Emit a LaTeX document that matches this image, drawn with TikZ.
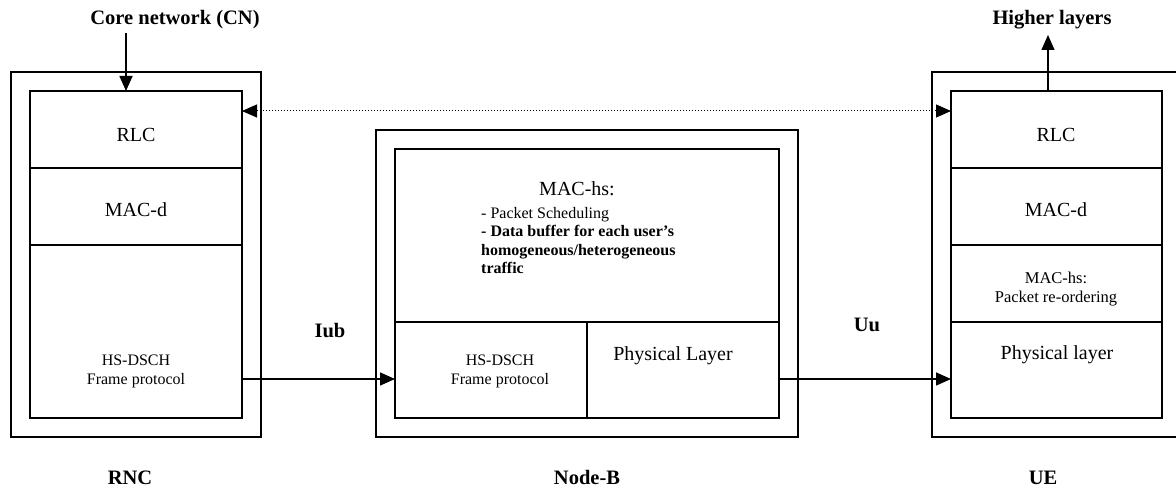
\documentclass[tikz,border=0pt]{standalone}
\usepackage{fontspec}
\setmainfont{Liberation Serif}
\usetikzlibrary{arrows.meta,calc}
\begin{document}
\begin{tikzpicture}[x=1pt,y=-1pt,
 frame/.style={draw,line width=1.5pt,inner sep=0pt,outer sep=0pt,anchor=north west},
 txt/.style={inner sep=0pt,anchor=base},
 big/.style={txt,font=\fontsize{20}{24}\selectfont},
 small/.style={txt,font=\fontsize{16}{18.5}\selectfont},
 mid/.style={txt,font=\fontsize{16.5}{19}\selectfont},
 lbl/.style={txt,font=\fontsize{20.5}{24}\selectfont\bfseries},
 arr/.style={line width=1.5pt,-{Triangle[length=15pt,width=13pt]}},
]
\useasboundingbox (0,0) rectangle (1176,489);

% RNC
\node[frame,minimum width=250pt,minimum height=365pt] (rnc) at (11,72) {};
\node[frame,minimum width=212pt,minimum height=77pt] (rncrlc) at (30,91) {};
\node[frame,minimum width=212pt,minimum height=77pt] (rncmac) at (30,168) {};
\node[frame,minimum width=212pt,minimum height=173pt] (rncfp) at (30,245) {};
\node[big] (trncrlc) at (136,141.5) {RLC};
\node[big] (trncmac) at (136,216.5) {MAC-d};
\node[small] (trncfp1) at (136,365.3) {HS-DSCH};
\node[small] (trncfp2) at (136,384.3) {Frame protocol};
\node[lbl] (cn) at (175,24.5) {Core network (CN)};
\node[lbl] (lrnc) at (130,484.5) {RNC};

% Node-B
\node[frame,minimum width=422pt,minimum height=307pt] (nodeb) at (376,130) {};
\node[frame,minimum width=384pt,minimum height=173pt] (nbmac) at (395,149) {};
\node[frame,minimum width=192pt,minimum height=96pt] (nbfp) at (395,322) {};
\node[frame,minimum width=192pt,minimum height=96pt] (nbphy) at (587,322) {};
\node[big] (tnbmac) at (577,195.5) {MAC-hs:};
\node[txt,anchor=base west,align=left,font=\fontsize{16}{18.3}\selectfont] (tnblist) at (481,273.4)
 {- Packet Scheduling\\ \textbf{- Data buffer for each user’s}\\ \textbf{homogeneous/heterogeneous}\\ \textbf{traffic}};
\node[small] (tnbfp1) at (500,365.3) {HS-DSCH};
\node[small] (tnbfp2) at (500,384.3) {Frame protocol};
\node[big] (tnbphy) at (673,360.5) {Physical Layer};
\node[lbl] (lnb) at (587,484.5) {Node-B};

% UE
\node[frame,minimum width=250pt,minimum height=365pt] (ue) at (932,72) {};
\node[frame,minimum width=211pt,minimum height=77pt] (uerlc) at (951,91) {};
\node[frame,minimum width=211pt,minimum height=77pt] (uemac) at (951,168) {};
\node[frame,minimum width=211pt,minimum height=77pt] (uehs) at (951,245) {};
\node[frame,minimum width=211pt,minimum height=96pt] (uephy) at (951,322) {};
\node[big] (tuerlc) at (1056,141.5) {RLC};
\node[big] (tuemac) at (1056,216.5) {MAC-d};
\node[mid] (tuehs1) at (1056,283.5) {MAC-hs:};
\node[mid] (tuehs2) at (1056,302.5) {Packet re-ordering};
\node[big] (tuephy) at (1057,359.5) {Physical layer};
\node[lbl] (hl) at (1052,24.5) {Higher layers};
\node[lbl] (lue) at (1043,484.5) {UE};

% interface labels
\node[lbl] (iub) at (330,337.5) {Iub};
\node[lbl] (uu) at (867,331.5) {Uu};

% connectors
\coordinate (cnbot) at (126,33);
\draw[arr] (cnbot) -- (cnbot |- rncrlc.north);
\coordinate (hlbot) at (1048,35);
\draw[arr] (hlbot |- uerlc.north) -- (hlbot);
\draw[line width=1pt,dash pattern=on 1.5pt off 1.5pt,{Triangle[length=15pt,width=13pt]}-{Triangle[length=15pt,width=13pt]}]
 ([yshift=-20pt]rncrlc.north east) -- ([yshift=-20pt]uerlc.north west);
\draw[arr] ([yshift=39pt]rncfp.south east) -- ([yshift=39pt]nbfp.south west);
\draw[arr] ([yshift=39pt]nbphy.south east) -- ([yshift=39pt]uephy.south west);
\end{tikzpicture}
\end{document}
